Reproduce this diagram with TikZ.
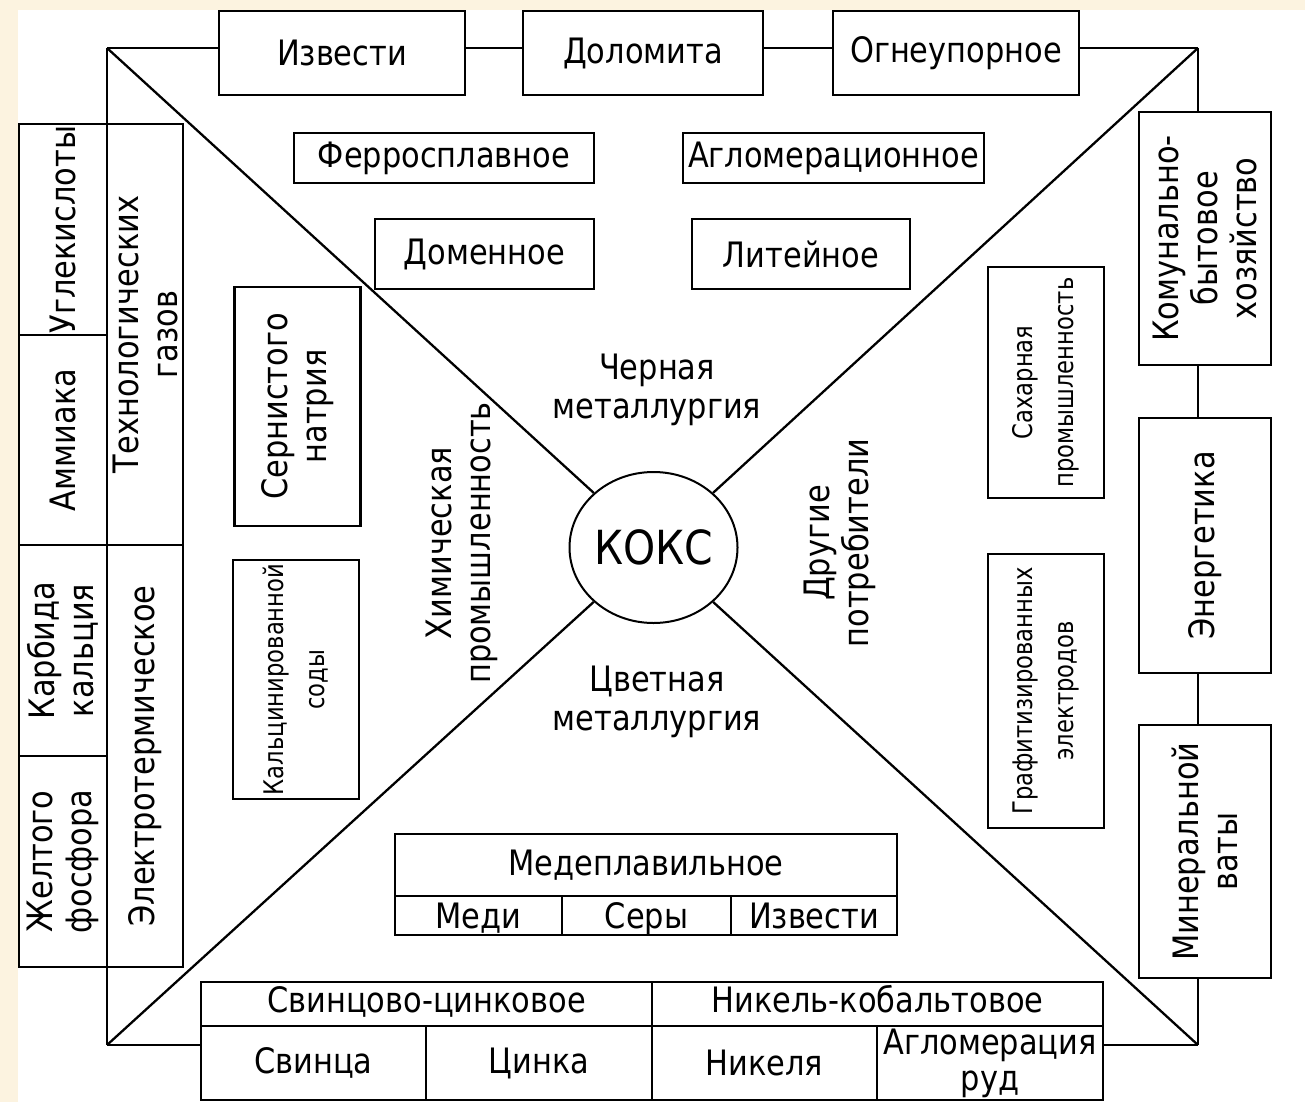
\documentclass[tikz,border=0pt]{standalone}
\usepackage{fontspec}
\setmainfont{DejaVu Sans}[FakeStretch=0.87]
\newfontfamily\narrowfont{DejaVu Sans}[FakeStretch=0.84]
\usetikzlibrary{shapes.geometric}
\definecolor{cream}{RGB}{252,243,224}
\newcommand{\bigtxt}{\fontsize{35}{39}\selectfont}
\newcommand{\smalltxt}{\narrowfont\fontsize{27}{41}\selectfont}
\tikzset{
  box/.style={draw, line width=2.6pt, inner sep=0pt, align=center, font=\bigtxt},
  vbox/.style={box, rotate=90},
  cell/.style={box, text height=25pt, text depth=8pt},
  lowcell/.style={box, text height=28pt, text depth=3pt},
  sector/.style={align=center, font=\bigtxt},
  diag/.style={line width=2.3pt},
  link/.style={line width=2.6pt}
}
\begin{document}
\begin{tikzpicture}[x=1pt, y=-1pt]
    \useasboundingbox (0,0) rectangle (1305,1102);
    \fill[cream] (0,0) rectangle (1305,1102);
    \fill[white] (18,10) rectangle (1305,1102);

    % Corners of the frame
    \coordinate (tl) at (107,48);
    \coordinate (tr) at (1198,48);
    \coordinate (bl) at (107,1045);
    \coordinate (br) at (1198,1045);

    % Coke
    \node[ellipse, draw, line width=2pt, inner sep=0pt, minimum width=163,
          minimum height=151, font=\fontsize{47}{50}\selectfont]
          (koks) at (653.5,547.5) {КОКС};
    \foreach \c in {tl, tr, bl, br} {
      \draw[diag] (\c) -- (koks);
    }

    % Sectors
    \node[sector] (chern) at (657,390) {Черная\\металлургия};
    \node[sector] (cvet) at (657,702) {Цветная\\металлургия};
    \node[sector, rotate=90] (him) at (462,543) {Химическая\\промышленность};
    \node[sector, rotate=90] (drug) at (840,543) {Другие\\потребители};

    % Top row
    \foreach \name/\cx/\w/\txt in {izv/342/246/Извести, dol/643/240/Доломита,
                                   ogn/956/246/Огнеупорное} {
      \node[box, minimum width=\w, minimum height=84] (\name) at (\cx,53) {\txt};
    }
    \draw[link] (tl) -- (izv.west |- tl);
    \draw[link] (izv.east |- tl) -- (dol.west |- tl);
    \draw[link] (dol.east |- tl) -- (ogn.west |- tl);
    \draw[link] (ogn.east |- tr) -- (tr);

    % Black metallurgy
    \node[box, minimum width=300, minimum height=50] (ferro) at (444,158) {Ферросплавное};
    \node[box, minimum width=301, minimum height=50] (aglo) at (833.5,158) {Агломерационное};
    \node[box, minimum width=219, minimum height=70] (domen) at (484.5,254) {Доменное};
    \node[box, minimum width=218, minimum height=70] (lit) at (801,254) {Литейное};

    % Chemical industry
    \node[vbox, minimum width=239, minimum height=126] (sern) at (297.5,406.5) {Сернистого\\натрия};
    \node[vbox, minimum width=239, minimum height=126, font=\smalltxt]
          (kalc) at (296,679.5) {Кальцинированной\\соды};
    \foreach \name/\cy/\h/\txt in {ugl/229.5/211/Углекислоты, amm/440/210/Аммиака,
                                   karb/650.5/211/{Карбида\\кальция},
                                   zhelt/861.5/211/{Желтого\\фосфора}} {
      \node[vbox, minimum width=\h, minimum height=88] (\name) at (63,\cy) {\txt};
    }
    \node[vbox, minimum width=421, minimum height=76] (tech) at (145,334.5) {Технологических\\газов};
    \node[vbox, minimum width=422, minimum height=76] (elek) at (145,756) {Электротермическое};
    \draw[link] (tl) -- (tl |- tech.east);
    \draw[link] (bl |- elek.west) -- (bl);

    % Other consumers
    \node[vbox, minimum width=231, minimum height=116, font=\smalltxt]
          (sah) at (1046,382.5) {Сахарная\\промышленность};
    \node[vbox, minimum width=274, minimum height=116, font=\smalltxt]
          (graf) at (1046,691) {Графитизированных\\электродов};
    \foreach \name/\cy/\h/\txt in {kom/238.5/253/{Комунально-\\бытовое\\хозяйство},
                                   ener/545.5/255/Энергетика,
                                   miner/851.5/253/{Минеральной\\ваты}} {
      \node[vbox, minimum width=\h, minimum height=132] (\name) at (1205,\cy) {\txt};
    }
    \draw[link] (tr) -- (tr |- kom.east);
    \draw[link] (tr |- kom.west) -- (tr |- ener.east);
    \draw[link] (tr |- ener.west) -- (tr |- miner.east);
    \draw[link] (br |- miner.west) -- (br);

    % Non-ferrous metallurgy
    \node[box, minimum width=502, minimum height=62] (med) at (646,865) {Медеплавильное};
    \node[lowcell, minimum width=167, minimum height=39] (medi) at (478.5,915.5) {Меди};
    \node[lowcell, minimum width=169, minimum height=39] (sery) at (646.5,915.5) {Серы};
    \node[lowcell, minimum width=166, minimum height=39] (izvm) at (814,915.5) {Извести};

    \node[cell, minimum width=451, minimum height=44] (svc) at (426.5,1004) {Свинцово-цинковое};
    \node[cell, minimum width=451, minimum height=44] (nikc) at (877.5,1004) {Никель-кобальтовое};
    \node[box, minimum width=225, minimum height=74] (svin) at (313.5,1063) {Свинца};
    \node[box, minimum width=226, minimum height=74] (cink) at (539,1063) {Цинка};
    \node[box, minimum width=225, minimum height=74] (nikel) at (764.5,1063) {Никеля};
    \node[box, minimum width=226, minimum height=74, font=\fontsize{35}{36}\selectfont]
          (aglr) at (990,1063) {Агломерация\\руд};
    \draw[link] (bl) -- (bl -| svin.west);
    \draw[link] (aglr.east |- br) -- (br);
\end{tikzpicture}
\end{document}
